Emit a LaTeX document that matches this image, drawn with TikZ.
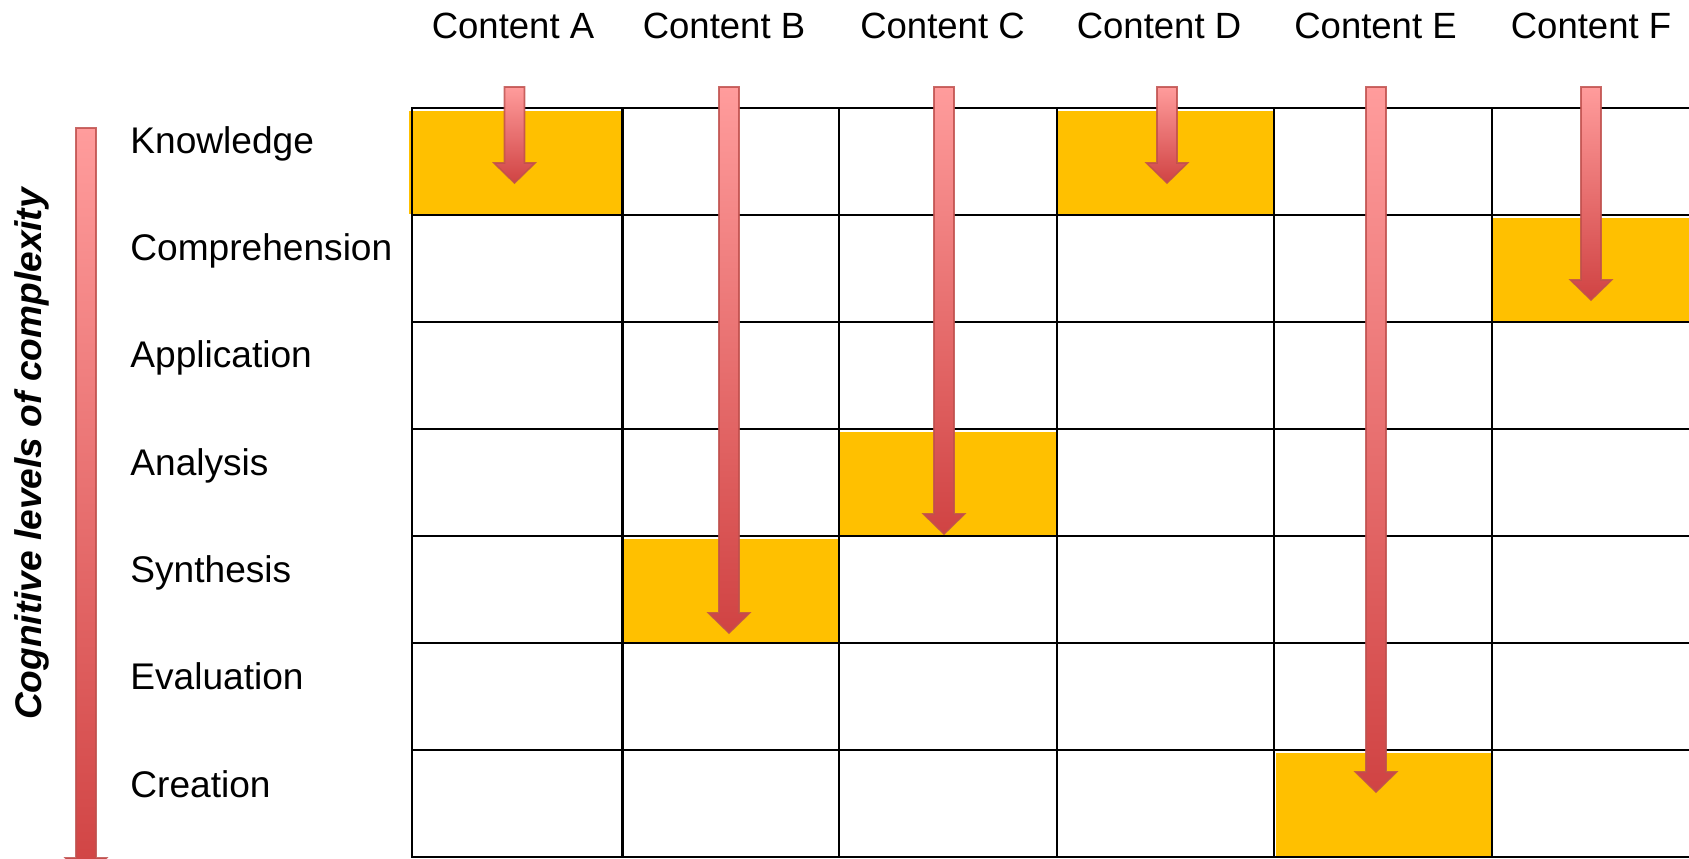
\documentclass[tikz,border=0pt]{standalone}
\usepackage{fontspec}
\setmainfont{Liberation Sans}
\definecolor{cellorange}{HTML}{FFC000}
\definecolor{arrowtop}{HTML}{FF9C9C}
\definecolor{arrowbot}{HTML}{D04343}
\definecolor{arrowedge}{HTML}{C0504D}
% block arrow pointing down: #1 = centre x, #2 = top y, #3 = tip y
\newcommand\levelarrow[3]{%
  \shadedraw[top color=arrowtop, bottom color=arrowbot, draw=arrowedge,
    draw opacity=0.85, line width=0.8pt, line join=miter]
    ({#1-10},#2) -- ({#1+10},#2) -- ({#1+10},{#3-20}) -- ({#1+20.5},{#3-20})
    -- (#1,#3) -- ({#1-20.5},{#3-20}) -- ({#1-10},{#3-20}) -- cycle;}
\begin{document}
\begin{tikzpicture}[x=0.5pt,y=-0.5pt,
  hdr/.style={font=\fontsize{18.25}{22}\selectfont, inner sep=0pt},
  lbl/.style={font=\fontsize{18.55}{22}\selectfont, inner sep=0pt},
  vlbl/.style={font=\fontsize{18.55}{22}\selectfont\bfseries\itshape, inner sep=0pt},
  gridline/.style={line width=1.25pt, black},
  hilite/.style={fill=cellorange}]
\useasboundingbox (0,0) rectangle (1689,858);
\clip (0,0) rectangle (1689,858);

% highlighted cells (column bounds, row bounds)
\fill[hilite] (409,111) rectangle (622,214);    % Content A / Knowledge
\fill[hilite] (1058,111) rectangle (1273,214);  % Content D / Knowledge
\fill[hilite] (1493,218) rectangle (1712,321);  % Content F / Comprehension
\fill[hilite] (840,432) rectangle (1056,535);   % Content C / Analysis
\fill[hilite] (623,539) rectangle (838,642);    % Content B / Synthesis
\fill[hilite] (1276,753) rectangle (1491,858);  % Content E / Creation

% table grid
\foreach \gx in {412,622.5,839,1057,1274,1492,1709}
  \draw[gridline] (\gx,107) -- (\gx,858);
\foreach \k in {0,...,7}
  \draw[gridline] (411,{108+107*\k}) -- (1712,{108+107*\k});

% column headers
\node[hdr, anchor=base] (hA) at (513,38) {Content A};
\node[hdr, anchor=base] (hB) at (724,38) {Content B};
\node[hdr, anchor=base] (hC) at (942.5,38) {Content C};
\node[hdr, anchor=base] (hD) at (1159,38) {Content D};
\node[hdr, anchor=base] (hE) at (1375.5,38) {Content E};
\node[hdr, anchor=base] (hF) at (1591,38) {Content F};

% cognitive levels
\node[lbl, anchor=base west] (l1) at (130,153) {Knowledge};
\node[lbl, anchor=base west] (l2) at (130,260.5) {Comprehension};
\node[lbl, anchor=base west] (l3) at (130,367.5) {Application};
\node[lbl, anchor=base west] (l4) at (130,475) {Analysis};
\node[lbl, anchor=base west] (l5) at (130,582) {Synthesis};
\node[lbl, anchor=base west] (l6) at (130,689.5) {Evaluation};
\node[lbl, anchor=base west] (l7) at (130,797) {Creation};

% axis title
\node[vlbl, rotate=90, anchor=base] (axis) at (41,454) {Cognitive levels of complexity};

% level arrows per content
\levelarrow{86}{128}{878}
\levelarrow{514.5}{87}{183}
\levelarrow{729}{87}{633}
\levelarrow{944}{87}{534}
\levelarrow{1167}{87}{183}
\levelarrow{1376}{87}{792}
\levelarrow{1591}{87}{300}
\end{tikzpicture}
\end{document}
